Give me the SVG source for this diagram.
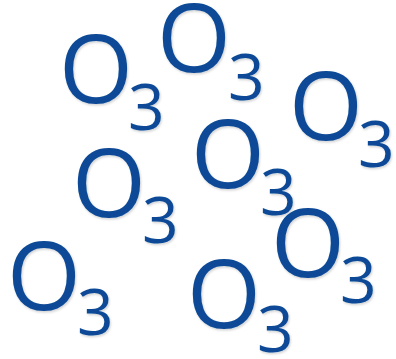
<svg xmlns="http://www.w3.org/2000/svg" width="396" height="359" viewBox="0 0 396 359">
<style>
text{font-family:"Open Sans","Noto Sans",sans-serif;fill:#0B4A96;}
.o{font-size:95px;}
.s{font-size:64px;}
</style>
<defs>
<filter id="sh" x="-10%" y="-10%" width="130%" height="130%">
<feDropShadow dx="1" dy="1.5" stdDeviation="1" flood-color="#000" flood-opacity="0.18"/>
</filter>
</defs>
<rect width="396" height="359" fill="#fff"/>
<g filter="url(#sh)">
<g id="m1"><text class="o" x="59" y="103">O</text><text class="s" x="128" y="130">3</text></g>
<g id="m2"><text class="o" x="157" y="72">O</text><text class="s" x="228" y="100">3</text></g>
<g id="m3"><text class="o" x="289" y="140">O</text><text class="s" x="358" y="167">3</text></g>
<g id="m4"><text class="o" x="191" y="188">O</text><text class="s" x="260" y="215">3</text></g>
<g id="m5"><text class="o" x="72" y="217">O</text><text class="s" x="142" y="243">3</text></g>
<g id="m6"><text class="o" x="7" y="310">O</text><text class="s" x="77" y="335">3</text></g>
<g id="m7"><text class="o" x="271" y="277">O</text><text class="s" x="340" y="303">3</text></g>
<g id="m8"><text class="o" x="187" y="328">O</text><text class="s" x="257" y="352">3</text></g>
</g>
</svg>
